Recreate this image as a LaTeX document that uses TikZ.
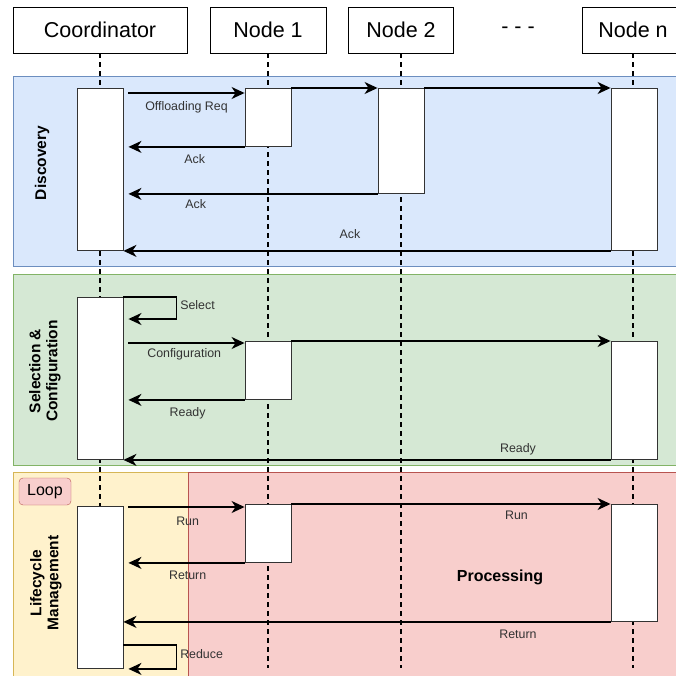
\documentclass[tikz,border=0pt]{standalone}
\usepackage{fontspec}
\setmainfont{Liberation Sans}
\usetikzlibrary{calc,shapes,arrows.meta}

\definecolor{bluefill}{HTML}{DAE8FC}
\definecolor{blueline}{HTML}{6C8EBF}
\definecolor{greenfill}{HTML}{D5E8D4}
\definecolor{greenline}{HTML}{82B366}
\definecolor{yellowfill}{HTML}{FFF2CC}
\definecolor{yellowline}{HTML}{D6B656}
\definecolor{redfill}{HTML}{F8CECC}
\definecolor{redline}{HTML}{B85450}

\tikzset{
  head/.style={draw, fill=white, line width=0.8pt, minimum height=46pt, inner sep=0pt,
    font=\fontsize{21.5}{24}\selectfont},
  act/.style={draw=black!80, fill=white, line width=0.9pt, minimum width=46pt,
    inner sep=0pt, anchor=north},
  msg/.style={line width=1.6pt, -{Stealth[length=13pt,width=12pt,inset=4pt]}},
  lbl/.style={font=\fontsize{12.4}{14}\selectfont, text=black!80, inner sep=0pt,
    text height=9pt, text depth=2.6pt},
  life/.style={line width=1.5pt, dash pattern=on 5pt off 4pt},
  phase/.style={rotate=90, align=center, font=\fontsize{15.5}{17}\bfseries\selectfont}
}

\begin{document}
\begin{tikzpicture}[x=1pt, y=-1pt]
    \useasboundingbox (0,0) rectangle (675,676);
    \filldraw[fill=bluefill, draw=blueline] (13,76) rectangle (690,266);
    \filldraw[fill=greenfill, draw=greenline] (13,274) rectangle (690,465);
    \filldraw[fill=yellowfill, draw=yellowline] (13,472) rectangle (188,690);
    \filldraw[fill=redfill, draw=redline] (188,472) rectangle (690,690);

    \node[head, minimum width=174pt] (coord) at (100,30) {Coordinator};
    \node[head, minimum width=116pt] (n1) at (268,30) {Node 1};
    \node[head, minimum width=105pt] (n2) at (401,30) {Node 2};
    \node[font=\fontsize{21.5}{24}\selectfont] (dots) at (518,30) {- - -};
    \node[head, minimum width=102pt] (nn) at (633,30) {Node n};

    \coordinate (bottom) at (0,668);
    \foreach \n in {coord,n1,n2,nn}
        \draw[life] (\n.south) -- (\n.south |- bottom);

    \node[phase] (disc) at (42,163) {Discovery};
    \node[phase] (sel) at (45,371) {Selection \&\\Configuration};
    \node[phase] (lcm) at (46,583) {Lifecycle\\Management};
    \node[draw=redline, fill=redfill, rounded corners=4pt, minimum width=52pt,
        minimum height=27pt, inner sep=0pt, font=\fontsize{16}{18}\selectfont]
        (loop) at (45,491.5) {Loop};
    \node[font=\fontsize{16}{18}\bfseries\selectfont] (proc) at (500,577) {Processing};

    \node[act, minimum height=162pt] (ca1) at (100,88) {};
    \node[act, minimum height=58pt] (na1) at (268,88) {};
    \node[act, minimum height=105pt] (nb1) at (401,88) {};
    \node[act, minimum height=162pt] (nn1) at (634,88) {};

    \draw[msg] ([xshift=5pt,yshift=-5pt]ca1.north east) -- ([yshift=-5pt]na1.north west)
        node[lbl, midway, yshift=-14pt] {Offloading Req};
    \draw[msg] (na1.north east) -- (nb1.north west);
    \draw[msg] (nb1.north east) -- (nn1.north west);
    \draw[msg] (na1.south west) -- ([xshift=5pt]ca1.east |- na1.south)
        node[lbl, pos=.43, yshift=-13pt] {Ack};
    \draw[msg] (nb1.south west) -- ([xshift=5pt]ca1.east |- nb1.south)
        node[lbl, pos=.73, yshift=-11pt] {Ack};
    \draw[msg] (nn1.south west) -- (ca1.south east)
        node[lbl, pos=.535, yshift=16pt] {Ack};

    \node[act, minimum height=162pt] (ca2) at (100,297) {};
    \node[act, minimum height=58pt] (na2) at (268,341) {};
    \node[act, minimum height=118pt] (nn2) at (634,341) {};

    \draw[msg] (ca2.north east) -- ++(53,0) -- ++(0,22)
        node[lbl, midway, anchor=west, xshift=3pt, yshift=2pt] {Select}
        -- ([xshift=5pt,yshift=-22pt]ca2.north east);
    \draw[msg] ([xshift=5pt,yshift=-2pt]ca2.east |- na2.north) -- ([yshift=-2pt]na2.north west)
        node[lbl, pos=.48, yshift=-11pt] {Configuration};
    \draw[msg] (na2.north east) -- (nn2.north west);
    \draw[msg] (na2.south west) -- ([xshift=5pt]ca2.east |- na2.south)
        node[lbl, pos=.49, yshift=-13pt] {Ready};
    \draw[msg] (nn2.south west) -- (ca2.south east)
        node[lbl, pos=.19, yshift=11pt] {Ready};

    \node[act, minimum height=162pt] (ca3) at (100,506) {};
    \node[act, minimum height=58pt] (na3) at (268,504) {};
    \node[act, minimum height=117pt] (nn3) at (634,504) {};

    \draw[msg] ([xshift=5pt,yshift=-1pt]ca3.north east) -- ([yshift=-1pt]na3.west |- ca3.north)
        node[lbl, pos=.51, yshift=-15pt] {Run};
    \draw[msg] (na3.north east) -- (nn3.north west)
        node[lbl, pos=.705, yshift=-12pt] {Run};
    \draw[msg] (na3.south west) -- ([xshift=5pt]ca3.east |- na3.south)
        node[lbl, pos=.49, yshift=-13pt] {Return};
    \draw[msg] (nn3.south west) -- (ca3.east |- nn3.south)
        node[lbl, pos=.19, yshift=-13pt] {Return};
    \draw[msg] ([yshift=24pt]ca3.south east) -- ++(53,0) -- ++(0,24)
        node[lbl, midway, anchor=west, xshift=3pt, yshift=2pt] {Reduce}
        -- ([xshift=5pt]ca3.south east);
\end{tikzpicture}
\end{document}
